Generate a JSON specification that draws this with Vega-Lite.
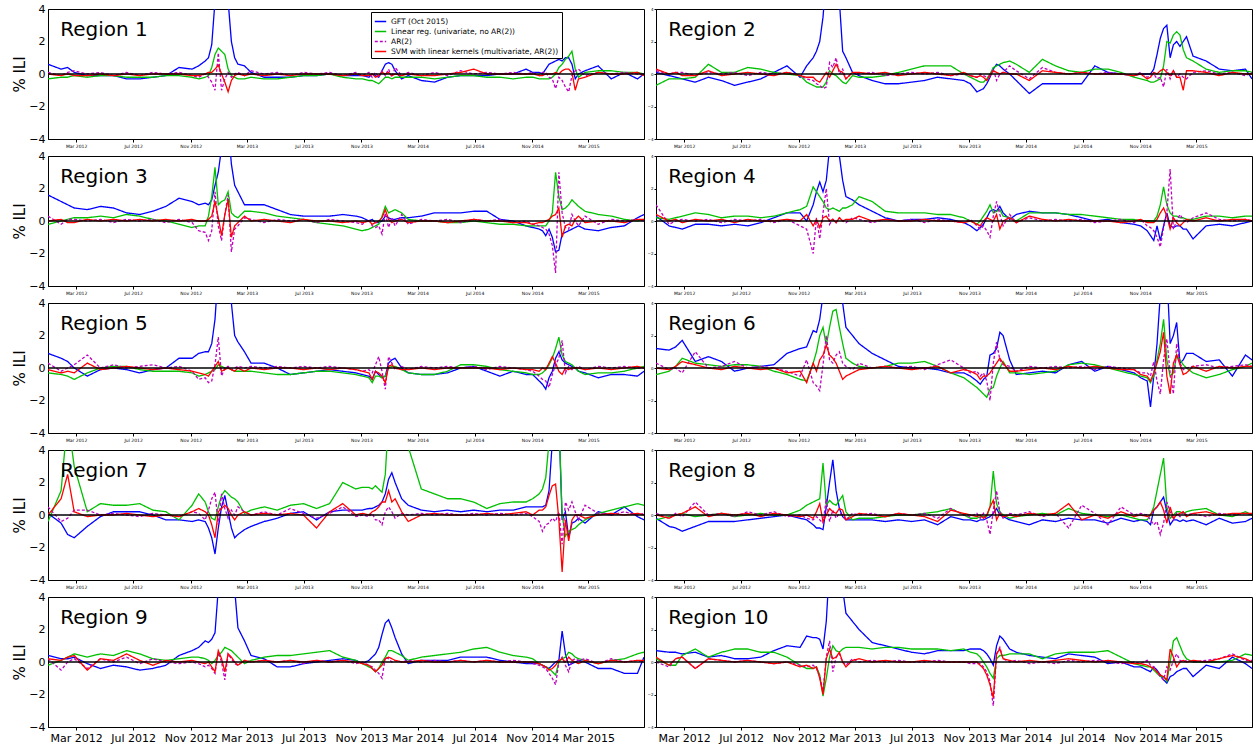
{
"$schema":"https://vega.github.io/schema/vega-lite/v6.json",
"padding":{"left":12,"top":2,"right":2,"bottom":2},
"bounds":"flush",
"columns":2,
"spacing":{"row":17,"column":12},
"config":{"font":"DejaVu Sans","view":{"stroke":"black","strokeWidth":1},"axis":{"domainColor":"black","tickColor":"black","labelColor":"black","titleColor":"black","grid":false,"labelOverlap":false,"labelFlush":false},"axisY":{"labelOverlap":false}},
"datasets":{
"r1":[
{"d":"2012-01-01","G":0.6,"L":-0.3,"A":0.1,"S":0},
{"d":"2012-01-29","G":0.3,"L":-0.2,"A":-0.1,"S":-0.1},
{"d":"2012-02-12","G":0.4,"L":-0.2,"A":0.1,"S":0},
{"d":"2012-02-26","G":0.1,"L":-0.1,"A":0.2,"S":-0.1},
{"d":"2012-03-25","G":-0.1,"L":-0.2,"A":0,"S":-0.1},
{"d":"2012-04-22","G":-0.1,"L":-0.1,"A":0.1,"S":0},
{"d":"2012-05-20","G":-0.1,"L":-0.1,"A":-0.1,"S":-0.1},
{"d":"2012-06-17","G":-0.3,"L":-0.2,"A":0.1,"S":0},
{"d":"2012-07-15","G":-0.3,"L":-0.2,"A":-0.1,"S":-0.1},
{"d":"2012-08-12","G":-0.2,"L":-0.2,"A":0.1,"S":0},
{"d":"2012-09-09","G":-0.1,"L":-0.1,"A":0,"S":0},
{"d":"2012-10-07","G":0.4,"L":-0.1,"A":0.1,"S":0},
{"d":"2012-11-04","G":0.3,"L":-0.2,"A":-0.1,"S":-0.1},
{"d":"2012-11-18","G":0.5,"L":-0.3,"A":-0.2,"S":-0.1},
{"d":"2012-12-02","G":0.8,"L":-0.2,"A":0,"S":0},
{"d":"2012-12-09","G":1.0,"L":-0.1,"A":-0.2,"S":0.1},
{"d":"2012-12-16","G":1.8,"L":0.4,"A":-0.5,"S":0.1},
{"d":"2012-12-23","G":4.5,"L":1.2,"A":-1.0,"S":0.3},
{"d":"2012-12-30","G":6,"L":1.6,"A":1.3,"S":0.55},
{"d":"2013-01-06","G":6,"L":1.4,"A":-1.0,"S":0},
{"d":"2013-01-13","G":6,"L":1.2,"A":-0.3,"S":-0.5},
{"d":"2013-01-20","G":4.5,"L":0.3,"A":0.1,"S":-1.1},
{"d":"2013-01-27","G":2.0,"L":-0.1,"A":-0.2,"S":-0.4},
{"d":"2013-02-03","G":1.0,"L":-0.2,"A":0,"S":-0.1},
{"d":"2013-02-10","G":0.6,"L":-0.3,"A":0.1,"S":0},
{"d":"2013-02-24","G":0.5,"L":-0.3,"A":-0.1,"S":-0.1},
{"d":"2013-03-10","G":0.1,"L":-0.2,"A":0.2,"S":0},
{"d":"2013-04-07","G":-0.2,"L":-0.3,"A":0,"S":-0.1},
{"d":"2013-05-05","G":-0.2,"L":-0.3,"A":0.1,"S":0},
{"d":"2013-06-02","G":-0.2,"L":-0.2,"A":-0.1,"S":-0.1},
{"d":"2013-06-30","G":-0.1,"L":-0.1,"A":0.1,"S":0},
{"d":"2013-07-28","G":-0.1,"L":-0.1,"A":0,"S":0},
{"d":"2013-08-25","G":0,"L":0,"A":0.1,"S":0},
{"d":"2013-09-22","G":-0.1,"L":-0.2,"A":-0.1,"S":-0.1},
{"d":"2013-10-20","G":-0.1,"L":-0.3,"A":0.1,"S":0},
{"d":"2013-11-03","G":-0.1,"L":-0.3,"A":-0.1,"S":-0.1},
{"d":"2013-11-17","G":-0.2,"L":-0.4,"A":0.1,"S":-0.1},
{"d":"2013-11-24","G":0,"L":-0.4,"A":-0.2,"S":0},
{"d":"2013-12-01","G":-0.1,"L":-0.5,"A":0.1,"S":-0.2},
{"d":"2013-12-08","G":-0.2,"L":-0.6,"A":-0.2,"S":-0.1},
{"d":"2013-12-15","G":0.2,"L":-0.4,"A":0.2,"S":0.1},
{"d":"2013-12-22","G":0.6,"L":-0.2,"A":-0.1,"S":0},
{"d":"2013-12-29","G":0.7,"L":-0.2,"A":0.3,"S":0.1},
{"d":"2014-01-05","G":0.6,"L":-0.3,"A":-0.2,"S":-0.1},
{"d":"2014-01-12","G":0.2,"L":-0.2,"A":0.4,"S":0},
{"d":"2014-01-26","G":-0.3,"L":-0.2,"A":-0.1,"S":-0.1},
{"d":"2014-02-09","G":-0.1,"L":-0.2,"A":0.1,"S":0},
{"d":"2014-03-09","G":-0.4,"L":-0.2,"A":-0.1,"S":-0.1},
{"d":"2014-04-06","G":-0.5,"L":-0.3,"A":0.1,"S":-0.1},
{"d":"2014-05-04","G":-0.2,"L":-0.2,"A":-0.1,"S":0},
{"d":"2014-06-01","G":-0.1,"L":-0.1,"A":0.2,"S":0.1},
{"d":"2014-06-29","G":-0.1,"L":-0.1,"A":0,"S":0.3},
{"d":"2014-07-27","G":-0.1,"L":-0.2,"A":0.1,"S":0},
{"d":"2014-08-24","G":0,"L":-0.2,"A":0,"S":0},
{"d":"2014-09-21","G":0,"L":-0.3,"A":0.1,"S":0},
{"d":"2014-10-19","G":0.3,"L":-0.2,"A":0,"S":0},
{"d":"2014-11-02","G":0.1,"L":-0.2,"A":0.1,"S":0},
{"d":"2014-11-16","G":0.1,"L":-0.3,"A":-0.1,"S":-0.1},
{"d":"2014-11-23","G":0,"L":-0.3,"A":0.1,"S":-0.1},
{"d":"2014-11-30","G":0.3,"L":-0.3,"A":0.1,"S":0},
{"d":"2014-12-07","G":0.6,"L":-0.3,"A":-0.2,"S":0},
{"d":"2014-12-14","G":0.7,"L":-0.2,"A":-0.3,"S":0},
{"d":"2014-12-21","G":0.8,"L":0,"A":-0.9,"S":0.1},
{"d":"2014-12-28","G":0.9,"L":0.4,"A":-0.2,"S":0},
{"d":"2015-01-04","G":0.8,"L":0.6,"A":-0.4,"S":0.2},
{"d":"2015-01-11","G":1.0,"L":0.9,"A":-0.8,"S":0.3},
{"d":"2015-01-18","G":1.0,"L":1.1,"A":-1.1,"S":0.3},
{"d":"2015-01-25","G":0.6,"L":1.4,"A":-0.1,"S":0.1},
{"d":"2015-02-01","G":-0.3,"L":0.3,"A":0.2,"S":-1.0},
{"d":"2015-02-08","G":0,"L":-0.2,"A":0.3,"S":-0.3},
{"d":"2015-02-22","G":0.2,"L":0.1,"A":-0.1,"S":-0.2},
{"d":"2015-03-22","G":0.5,"L":0.2,"A":0.1,"S":0.1},
{"d":"2015-04-19","G":-0.3,"L":0.2,"A":0,"S":0},
{"d":"2015-05-17","G":0.1,"L":0.1,"A":0.1,"S":0},
{"d":"2015-06-14","G":-0.3,"L":0.1,"A":0,"S":0.1},
{"d":"2015-06-28","G":0,"L":0,"A":0,"S":-0.1}
],
"r2":[
{"d":"2012-01-01","G":0.1,"L":-0.7,"A":0.2,"S":0.3},
{"d":"2012-01-29","G":-0.1,"L":-0.3,"A":0,"S":0},
{"d":"2012-02-12","G":-0.2,"L":-0.3,"A":0.1,"S":0.1},
{"d":"2012-02-26","G":-0.3,"L":-0.3,"A":0.1,"S":-0.1},
{"d":"2012-03-25","G":-0.5,"L":-0.2,"A":-0.1,"S":-0.1},
{"d":"2012-04-22","G":-0.2,"L":0.6,"A":0.1,"S":0.2},
{"d":"2012-05-20","G":-0.4,"L":0.1,"A":0,"S":-0.1},
{"d":"2012-06-17","G":-0.7,"L":0.1,"A":0.1,"S":0},
{"d":"2012-07-15","G":-0.5,"L":0.4,"A":-0.1,"S":0.1},
{"d":"2012-08-12","G":-0.3,"L":0.3,"A":0.1,"S":0},
{"d":"2012-09-09","G":0.1,"L":0.1,"A":0,"S":-0.1},
{"d":"2012-10-07","G":0.5,"L":0,"A":0.1,"S":0.1},
{"d":"2012-11-04","G":-0.2,"L":-0.1,"A":-0.1,"S":-0.1},
{"d":"2012-11-18","G":0.5,"L":-0.5,"A":-0.3,"S":-0.2},
{"d":"2012-12-02","G":1.0,"L":-0.7,"A":-0.4,"S":-0.2},
{"d":"2012-12-09","G":1.4,"L":-0.8,"A":-0.6,"S":-0.4},
{"d":"2012-12-16","G":2.0,"L":-0.8,"A":-0.7,"S":-0.5},
{"d":"2012-12-23","G":3.5,"L":-0.8,"A":-0.9,"S":-0.2},
{"d":"2012-12-30","G":6,"L":-0.5,"A":-0.8,"S":0.1},
{"d":"2013-01-06","G":6,"L":0.2,"A":0.7,"S":-0.2},
{"d":"2013-01-13","G":6,"L":0,"A":0.4,"S":0.2},
{"d":"2013-01-20","G":6,"L":-0.1,"A":1.0,"S":0.6},
{"d":"2013-01-27","G":4.5,"L":-0.3,"A":0,"S":0.2},
{"d":"2013-02-03","G":1.4,"L":-0.5,"A":0.3,"S":0.1},
{"d":"2013-02-10","G":1.0,"L":-0.6,"A":-0.3,"S":-0.3},
{"d":"2013-02-24","G":0.1,"L":-0.1,"A":0.1,"S":0.1},
{"d":"2013-03-10","G":-0.1,"L":-0.2,"A":0,"S":0.1},
{"d":"2013-04-07","G":-0.4,"L":-0.2,"A":0.1,"S":0},
{"d":"2013-05-05","G":-0.6,"L":-0.1,"A":-0.1,"S":0.1},
{"d":"2013-06-02","G":-0.6,"L":0.1,"A":0,"S":-0.1},
{"d":"2013-06-30","G":-0.5,"L":0.3,"A":0.1,"S":0},
{"d":"2013-07-28","G":-0.4,"L":0.5,"A":0,"S":0.1},
{"d":"2013-08-25","G":-0.2,"L":0.5,"A":0.1,"S":0},
{"d":"2013-09-22","G":-0.3,"L":0.5,"A":-0.1,"S":-0.1},
{"d":"2013-10-20","G":-0.4,"L":0,"A":0,"S":0.1},
{"d":"2013-11-03","G":-0.6,"L":-0.2,"A":-0.1,"S":-0.1},
{"d":"2013-11-17","G":-1.1,"L":-0.4,"A":-0.2,"S":-0.2},
{"d":"2013-11-24","G":-1.0,"L":-0.5,"A":0,"S":-0.1},
{"d":"2013-12-01","G":-0.9,"L":-0.5,"A":-0.1,"S":-0.2},
{"d":"2013-12-08","G":-0.6,"L":-0.3,"A":-0.2,"S":-0.4},
{"d":"2013-12-15","G":-0.2,"L":0,"A":-0.1,"S":-0.1},
{"d":"2013-12-22","G":0.3,"L":0.4,"A":0.3,"S":0.2},
{"d":"2013-12-29","G":0.6,"L":0.5,"A":-0.4,"S":0.1},
{"d":"2014-01-05","G":0.5,"L":0.6,"A":0,"S":0},
{"d":"2014-01-12","G":0.3,"L":0.7,"A":0.1,"S":0.1},
{"d":"2014-01-26","G":0,"L":0.8,"A":0.5,"S":0},
{"d":"2014-02-09","G":-0.4,"L":0.6,"A":0.2,"S":0},
{"d":"2014-03-09","G":-1.2,"L":0.1,"A":-0.3,"S":-0.4},
{"d":"2014-04-06","G":-0.6,"L":0.9,"A":0.4,"S":0.2},
{"d":"2014-05-04","G":-0.6,"L":0.5,"A":0.1,"S":0.1},
{"d":"2014-06-01","G":-0.6,"L":0.2,"A":0,"S":0},
{"d":"2014-06-29","G":-0.6,"L":0.1,"A":0.1,"S":0.1},
{"d":"2014-07-27","G":0.5,"L":0.3,"A":0,"S":0},
{"d":"2014-08-24","G":0.1,"L":0.3,"A":0.1,"S":0},
{"d":"2014-09-21","G":0,"L":0.1,"A":0,"S":0},
{"d":"2014-10-19","G":-0.1,"L":-0.2,"A":-0.1,"S":-0.1},
{"d":"2014-11-02","G":0,"L":-0.3,"A":0.1,"S":0},
{"d":"2014-11-16","G":0,"L":-0.4,"A":-0.2,"S":-0.3},
{"d":"2014-11-23","G":0,"L":-0.5,"A":-0.1,"S":-0.2},
{"d":"2014-11-30","G":0.3,"L":-0.5,"A":0,"S":0.1},
{"d":"2014-12-07","G":1.2,"L":-0.4,"A":-0.3,"S":0},
{"d":"2014-12-14","G":2.2,"L":-0.3,"A":-0.2,"S":0.2},
{"d":"2014-12-21","G":2.8,"L":0.5,"A":-0.8,"S":0.3},
{"d":"2014-12-28","G":3.0,"L":2.0,"A":0.3,"S":0.1},
{"d":"2015-01-04","G":1.0,"L":1.9,"A":-0.3,"S":-0.1},
{"d":"2015-01-11","G":1.8,"L":2.4,"A":0.2,"S":0.2},
{"d":"2015-01-18","G":2.0,"L":2.6,"A":-0.2,"S":-0.2},
{"d":"2015-01-25","G":1.7,"L":2.4,"A":0,"S":-0.2},
{"d":"2015-02-01","G":2.0,"L":1.5,"A":-0.2,"S":-1.0},
{"d":"2015-02-08","G":2.3,"L":1.0,"A":-0.3,"S":0.2},
{"d":"2015-02-22","G":1.1,"L":0.8,"A":0.1,"S":0.2},
{"d":"2015-03-22","G":0.8,"L":0.3,"A":0.2,"S":0.1},
{"d":"2015-04-19","G":0.3,"L":0.1,"A":0,"S":-0.1},
{"d":"2015-05-17","G":0.2,"L":0.2,"A":0.1,"S":0.1},
{"d":"2015-06-14","G":0.3,"L":0.2,"A":-0.1,"S":0},
{"d":"2015-06-28","G":-0.3,"L":0.1,"A":0.1,"S":0}
],
"r3":[
{"d":"2012-01-01","G":1.6,"L":-0.2,"A":0.3,"S":0},
{"d":"2012-01-29","G":1.2,"L":0,"A":-0.2,"S":0.1},
{"d":"2012-02-12","G":1.0,"L":0.1,"A":0.1,"S":-0.1},
{"d":"2012-02-26","G":0.8,"L":0.2,"A":0.1,"S":-0.1},
{"d":"2012-03-25","G":0.7,"L":0.2,"A":0,"S":0.1},
{"d":"2012-04-22","G":0.9,"L":0.3,"A":0.1,"S":0},
{"d":"2012-05-20","G":0.8,"L":0.2,"A":-0.1,"S":0.1},
{"d":"2012-06-17","G":0.5,"L":0.4,"A":0.1,"S":0},
{"d":"2012-07-15","G":0.4,"L":0.3,"A":0,"S":0.1},
{"d":"2012-08-12","G":0.6,"L":0.1,"A":0.1,"S":0},
{"d":"2012-09-09","G":0.9,"L":0,"A":-0.1,"S":0.1},
{"d":"2012-10-07","G":1.4,"L":-0.2,"A":0.1,"S":0},
{"d":"2012-11-04","G":1.2,"L":-0.4,"A":-0.1,"S":0.1},
{"d":"2012-11-18","G":1.0,"L":-0.3,"A":-0.6,"S":0},
{"d":"2012-12-02","G":1.1,"L":-0.3,"A":-0.7,"S":0},
{"d":"2012-12-09","G":1.0,"L":0.3,"A":-1.2,"S":0.1},
{"d":"2012-12-16","G":1.3,"L":1.5,"A":-0.6,"S":0.3},
{"d":"2012-12-23","G":2.2,"L":3.3,"A":1.8,"S":1.2},
{"d":"2012-12-30","G":3.0,"L":1.0,"A":-0.3,"S":0.2},
{"d":"2013-01-06","G":4.5,"L":1.2,"A":-1.2,"S":-0.9},
{"d":"2013-01-13","G":6,"L":1.3,"A":0.4,"S":0.4},
{"d":"2013-01-20","G":6,"L":1.8,"A":1.6,"S":1.3},
{"d":"2013-01-27","G":3.5,"L":0.5,"A":-1.9,"S":-1.0},
{"d":"2013-02-03","G":2.2,"L":0.3,"A":-0.5,"S":-0.3},
{"d":"2013-02-10","G":1.8,"L":0.2,"A":-0.3,"S":-0.1},
{"d":"2013-02-24","G":1.0,"L":0.6,"A":0.2,"S":0.3},
{"d":"2013-03-10","G":1.0,"L":0.6,"A":0.1,"S":0},
{"d":"2013-04-07","G":1.0,"L":0.5,"A":-0.1,"S":0.1},
{"d":"2013-05-05","G":0.7,"L":0.3,"A":0.1,"S":0},
{"d":"2013-06-02","G":0.4,"L":0.2,"A":0,"S":-0.1},
{"d":"2013-06-30","G":0.3,"L":0.1,"A":0.1,"S":0.1},
{"d":"2013-07-28","G":0.3,"L":-0.1,"A":-0.1,"S":0},
{"d":"2013-08-25","G":0.3,"L":-0.2,"A":0.1,"S":0},
{"d":"2013-09-22","G":0.4,"L":-0.3,"A":0,"S":-0.1},
{"d":"2013-10-20","G":0.3,"L":-0.5,"A":-0.1,"S":0},
{"d":"2013-11-03","G":0.2,"L":-0.6,"A":-0.2,"S":-0.1},
{"d":"2013-11-17","G":0,"L":-0.5,"A":0.1,"S":0},
{"d":"2013-11-24","G":0.1,"L":-0.4,"A":-0.3,"S":-0.2},
{"d":"2013-12-01","G":-0.1,"L":-0.3,"A":-0.4,"S":-0.1},
{"d":"2013-12-08","G":-0.1,"L":-0.2,"A":-0.3,"S":0},
{"d":"2013-12-15","G":0,"L":0.3,"A":-0.8,"S":0.2},
{"d":"2013-12-22","G":0.3,"L":0.9,"A":0.5,"S":0.7},
{"d":"2013-12-29","G":0.2,"L":0.5,"A":-0.4,"S":0.1},
{"d":"2014-01-05","G":0.1,"L":0.6,"A":0.2,"S":-0.1},
{"d":"2014-01-12","G":0.1,"L":0.7,"A":-0.3,"S":0},
{"d":"2014-01-26","G":0.2,"L":0.5,"A":0.4,"S":0.1},
{"d":"2014-02-09","G":0.2,"L":0.1,"A":-0.2,"S":-0.1},
{"d":"2014-03-09","G":0.3,"L":0,"A":0.1,"S":0},
{"d":"2014-04-06","G":0.5,"L":0,"A":0,"S":0},
{"d":"2014-05-04","G":0.5,"L":-0.1,"A":0.1,"S":-0.1},
{"d":"2014-06-01","G":0.5,"L":-0.1,"A":-0.1,"S":0},
{"d":"2014-06-29","G":0.6,"L":0,"A":0.1,"S":0.1},
{"d":"2014-07-27","G":0.6,"L":-0.1,"A":0,"S":0},
{"d":"2014-08-24","G":0.1,"L":-0.2,"A":0.1,"S":0},
{"d":"2014-09-21","G":0,"L":-0.2,"A":-0.1,"S":-0.1},
{"d":"2014-10-19","G":-0.3,"L":-0.3,"A":0,"S":-0.1},
{"d":"2014-11-02","G":-0.4,"L":-0.3,"A":-0.2,"S":-0.2},
{"d":"2014-11-16","G":-0.5,"L":-0.3,"A":-0.3,"S":-0.1},
{"d":"2014-11-23","G":-0.6,"L":-0.3,"A":-0.4,"S":-0.1},
{"d":"2014-11-30","G":-0.9,"L":-0.3,"A":-0.5,"S":0},
{"d":"2014-12-07","G":-0.5,"L":0,"A":-0.8,"S":0.1},
{"d":"2014-12-14","G":-1.0,"L":0.5,"A":-1.5,"S":0.3},
{"d":"2014-12-21","G":-1.9,"L":3.0,"A":-3.2,"S":0.4},
{"d":"2014-12-28","G":-1.8,"L":1.5,"A":3.0,"S":0.8},
{"d":"2015-01-04","G":-0.8,"L":0.7,"A":0.5,"S":-1.0},
{"d":"2015-01-11","G":-0.7,"L":0.8,"A":-0.4,"S":-0.3},
{"d":"2015-01-18","G":-0.6,"L":1.0,"A":-0.5,"S":-0.2},
{"d":"2015-01-25","G":-0.5,"L":1.3,"A":0.4,"S":-0.3},
{"d":"2015-02-01","G":-0.4,"L":1.1,"A":0,"S":0.1},
{"d":"2015-02-08","G":-0.3,"L":0.9,"A":-0.3,"S":0.3},
{"d":"2015-02-22","G":-0.5,"L":0.6,"A":0.3,"S":-0.1},
{"d":"2015-03-22","G":-0.6,"L":0.4,"A":-0.2,"S":0},
{"d":"2015-04-19","G":-0.4,"L":0.3,"A":0.1,"S":0},
{"d":"2015-05-17","G":-0.3,"L":0.1,"A":0,"S":-0.1},
{"d":"2015-06-14","G":0.2,"L":0,"A":0.1,"S":0.1},
{"d":"2015-06-28","G":0.4,"L":0.1,"A":0,"S":0.1}
],
"r4":[
{"d":"2012-01-01","G":0.3,"L":0.2,"A":1.0,"S":0.4},
{"d":"2012-01-29","G":-0.3,"L":0.1,"A":-0.2,"S":0},
{"d":"2012-02-12","G":-0.4,"L":0.2,"A":0,"S":0.1},
{"d":"2012-02-26","G":-0.5,"L":0.3,"A":0.1,"S":-0.1},
{"d":"2012-03-25","G":-0.2,"L":0.5,"A":0,"S":0.1},
{"d":"2012-04-22","G":-0.2,"L":0.4,"A":0.1,"S":0},
{"d":"2012-05-20","G":-0.3,"L":0.2,"A":-0.1,"S":0.1},
{"d":"2012-06-17","G":-0.2,"L":0.3,"A":0.1,"S":-0.1},
{"d":"2012-07-15","G":-0.3,"L":0.3,"A":0,"S":0.1},
{"d":"2012-08-12","G":-0.1,"L":0.2,"A":0.1,"S":0},
{"d":"2012-09-09","G":0.2,"L":0.3,"A":-0.1,"S":0},
{"d":"2012-10-07","G":0.5,"L":0.5,"A":0.1,"S":0.1},
{"d":"2012-11-04","G":0.5,"L":0.7,"A":-0.3,"S":0},
{"d":"2012-11-18","G":0,"L":0.9,"A":-0.5,"S":0.4},
{"d":"2012-12-02","G":1.0,"L":2.1,"A":-2.0,"S":-0.3},
{"d":"2012-12-09","G":1.8,"L":1.8,"A":0.2,"S":0.1},
{"d":"2012-12-16","G":2.4,"L":1.5,"A":-1.1,"S":-0.4},
{"d":"2012-12-23","G":1.8,"L":1.2,"A":0.5,"S":0.2},
{"d":"2012-12-30","G":2.5,"L":0.8,"A":2.0,"S":0.3},
{"d":"2013-01-06","G":4.5,"L":0.7,"A":-0.2,"S":0},
{"d":"2013-01-13","G":6,"L":0.8,"A":0.1,"S":0.1},
{"d":"2013-01-20","G":6,"L":0.7,"A":-0.1,"S":-0.1},
{"d":"2013-01-27","G":4.0,"L":0.6,"A":0.2,"S":0.2},
{"d":"2013-02-03","G":2.5,"L":0.8,"A":0,"S":0},
{"d":"2013-02-10","G":1.5,"L":0.8,"A":-0.1,"S":0.1},
{"d":"2013-02-24","G":1.3,"L":1.0,"A":0.2,"S":0.1},
{"d":"2013-03-10","G":1.0,"L":1.5,"A":0.1,"S":0.3},
{"d":"2013-04-07","G":0.6,"L":1.2,"A":-0.1,"S":0},
{"d":"2013-05-05","G":0.2,"L":0.6,"A":0.1,"S":0.1},
{"d":"2013-06-02","G":0,"L":0.5,"A":0,"S":0},
{"d":"2013-06-30","G":0.1,"L":0.5,"A":0.1,"S":0},
{"d":"2013-07-28","G":0.1,"L":0.5,"A":-0.1,"S":0.1},
{"d":"2013-08-25","G":0.2,"L":0.4,"A":0.1,"S":0},
{"d":"2013-09-22","G":0.1,"L":0.4,"A":0,"S":0},
{"d":"2013-10-20","G":-0.1,"L":0.2,"A":-0.1,"S":-0.1},
{"d":"2013-11-03","G":-0.3,"L":0,"A":0.1,"S":0},
{"d":"2013-11-17","G":-0.6,"L":-0.2,"A":-0.3,"S":-0.2},
{"d":"2013-11-24","G":-0.4,"L":0,"A":-0.5,"S":-0.3},
{"d":"2013-12-01","G":-0.2,"L":0.3,"A":-0.3,"S":0},
{"d":"2013-12-08","G":0.2,"L":0.6,"A":-0.6,"S":0.2},
{"d":"2013-12-15","G":0.6,"L":1.0,"A":-1.0,"S":0.1},
{"d":"2013-12-22","G":0.7,"L":0.5,"A":0.3,"S":0},
{"d":"2013-12-29","G":0.6,"L":0.6,"A":1.2,"S":0.4},
{"d":"2014-01-05","G":0.9,"L":0.7,"A":0.4,"S":-0.5},
{"d":"2014-01-12","G":0.5,"L":0.3,"A":-0.3,"S":0},
{"d":"2014-01-26","G":0.1,"L":0.2,"A":0.4,"S":0.2},
{"d":"2014-02-09","G":0.4,"L":0,"A":-0.1,"S":-0.1},
{"d":"2014-03-09","G":0.6,"L":0.5,"A":0.2,"S":0.3},
{"d":"2014-04-06","G":0.5,"L":0.5,"A":0,"S":0.1},
{"d":"2014-05-04","G":0.5,"L":0.5,"A":0.1,"S":0},
{"d":"2014-06-01","G":0.4,"L":0.4,"A":0,"S":0.1},
{"d":"2014-06-29","G":0.2,"L":0.4,"A":0.1,"S":0},
{"d":"2014-07-27","G":0,"L":0.3,"A":-0.1,"S":0},
{"d":"2014-08-24","G":0.1,"L":0.2,"A":0,"S":0},
{"d":"2014-09-21","G":-0.1,"L":0.1,"A":0.1,"S":-0.1},
{"d":"2014-10-19","G":-0.2,"L":0.1,"A":-0.1,"S":0},
{"d":"2014-11-02","G":-0.3,"L":0,"A":0.1,"S":0.1},
{"d":"2014-11-16","G":-0.6,"L":0,"A":-0.3,"S":-0.1},
{"d":"2014-11-23","G":-0.9,"L":0,"A":-0.4,"S":-0.1},
{"d":"2014-11-30","G":-1.2,"L":0,"A":-0.6,"S":-0.1},
{"d":"2014-12-07","G":-0.3,"L":0.3,"A":-1.0,"S":0.1},
{"d":"2014-12-14","G":-1.2,"L":1.0,"A":-1.6,"S":0.5},
{"d":"2014-12-21","G":-0.3,"L":2.1,"A":-0.4,"S":0.8},
{"d":"2014-12-28","G":0.5,"L":1.0,"A":0.5,"S":0.3},
{"d":"2015-01-04","G":-0.3,"L":0.5,"A":3.2,"S":-0.5},
{"d":"2015-01-11","G":-0.4,"L":0.3,"A":-0.5,"S":0.2},
{"d":"2015-01-18","G":-0.3,"L":0.3,"A":0,"S":-0.1},
{"d":"2015-01-25","G":-0.3,"L":0.2,"A":0.4,"S":-0.3},
{"d":"2015-02-01","G":-0.5,"L":0.2,"A":0.1,"S":-0.1},
{"d":"2015-02-08","G":-0.5,"L":0.1,"A":-0.1,"S":0.1},
{"d":"2015-02-22","G":-1.1,"L":0.1,"A":0.2,"S":0},
{"d":"2015-03-22","G":-0.3,"L":0.3,"A":0.5,"S":0.2},
{"d":"2015-04-19","G":-0.2,"L":0.3,"A":0.1,"S":0},
{"d":"2015-05-17","G":-0.3,"L":0.2,"A":0,"S":0.1},
{"d":"2015-06-14","G":-0.1,"L":0.3,"A":0.1,"S":0.1},
{"d":"2015-06-28","G":0,"L":0.3,"A":0,"S":0}
],
"r5":[
{"d":"2012-01-01","G":0.9,"L":-0.3,"A":0.3,"S":-0.1},
{"d":"2012-01-29","G":0.6,"L":-0.4,"A":-0.2,"S":-0.3},
{"d":"2012-02-12","G":0.4,"L":-0.5,"A":0,"S":-0.2},
{"d":"2012-02-26","G":0,"L":-0.7,"A":0.2,"S":-0.3},
{"d":"2012-03-25","G":-0.5,"L":-0.3,"A":0.8,"S":0.3},
{"d":"2012-04-22","G":-0.1,"L":0,"A":0,"S":-0.1},
{"d":"2012-05-20","G":0,"L":0.1,"A":0.2,"S":0},
{"d":"2012-06-17","G":-0.1,"L":0.1,"A":0,"S":0.1},
{"d":"2012-07-15","G":-0.3,"L":-0.1,"A":0.1,"S":0},
{"d":"2012-08-12","G":-0.1,"L":-0.2,"A":0.2,"S":-0.1},
{"d":"2012-09-09","G":0,"L":-0.2,"A":0,"S":0},
{"d":"2012-10-07","G":0.6,"L":-0.2,"A":0.1,"S":-0.1},
{"d":"2012-11-04","G":0.6,"L":-0.3,"A":-0.2,"S":-0.2},
{"d":"2012-11-18","G":0.9,"L":-0.5,"A":-0.7,"S":-0.3},
{"d":"2012-12-02","G":1.0,"L":-0.4,"A":-0.6,"S":-0.4},
{"d":"2012-12-09","G":1.0,"L":-0.3,"A":-0.9,"S":-0.5},
{"d":"2012-12-16","G":1.5,"L":-0.2,"A":-0.8,"S":-0.2},
{"d":"2012-12-23","G":3.0,"L":-0.1,"A":0.2,"S":0.1},
{"d":"2012-12-30","G":6,"L":0.2,"A":1.9,"S":0.4},
{"d":"2013-01-06","G":6,"L":0.1,"A":-0.5,"S":-0.2},
{"d":"2013-01-13","G":6,"L":0,"A":0,"S":-0.1},
{"d":"2013-01-20","G":6,"L":0,"A":0.1,"S":0},
{"d":"2013-01-27","G":4.0,"L":-0.1,"A":-0.1,"S":-0.1},
{"d":"2013-02-03","G":2.0,"L":-0.2,"A":0,"S":-0.2},
{"d":"2013-02-10","G":1.6,"L":-0.2,"A":0.1,"S":0},
{"d":"2013-02-24","G":1.0,"L":-0.2,"A":0,"S":-0.2},
{"d":"2013-03-10","G":0.3,"L":-0.2,"A":0.1,"S":0},
{"d":"2013-04-07","G":0.3,"L":-0.3,"A":0,"S":-0.1},
{"d":"2013-05-05","G":0,"L":-0.4,"A":0.1,"S":0},
{"d":"2013-06-02","G":-0.4,"L":-0.4,"A":0,"S":0},
{"d":"2013-06-30","G":-0.3,"L":-0.3,"A":0.1,"S":-0.1},
{"d":"2013-07-28","G":-0.2,"L":-0.2,"A":0,"S":0},
{"d":"2013-08-25","G":-0.1,"L":-0.2,"A":0.1,"S":-0.1},
{"d":"2013-09-22","G":-0.2,"L":-0.3,"A":0,"S":0},
{"d":"2013-10-20","G":-0.3,"L":-0.4,"A":-0.1,"S":-0.1},
{"d":"2013-11-03","G":-0.4,"L":-0.5,"A":-0.2,"S":-0.2},
{"d":"2013-11-17","G":-0.5,"L":-0.6,"A":-0.1,"S":-0.3},
{"d":"2013-11-24","G":-0.7,"L":-0.9,"A":-0.3,"S":-0.7},
{"d":"2013-12-01","G":-0.2,"L":-0.5,"A":0.2,"S":-0.2},
{"d":"2013-12-08","G":-0.4,"L":-0.5,"A":0.7,"S":-0.3},
{"d":"2013-12-15","G":-0.6,"L":-0.6,"A":-0.2,"S":-0.5},
{"d":"2013-12-22","G":-0.5,"L":-0.5,"A":-1.3,"S":-0.9},
{"d":"2013-12-29","G":0.3,"L":0,"A":0.7,"S":0.1},
{"d":"2014-01-05","G":0.5,"L":0.1,"A":0.3,"S":0.2},
{"d":"2014-01-12","G":0.6,"L":0.1,"A":-0.1,"S":0},
{"d":"2014-01-26","G":0,"L":-0.1,"A":0.1,"S":-0.1},
{"d":"2014-02-09","G":-0.3,"L":-0.3,"A":-0.1,"S":-0.1},
{"d":"2014-03-09","G":-0.4,"L":-0.4,"A":0.1,"S":0},
{"d":"2014-04-06","G":-0.4,"L":-0.4,"A":0,"S":-0.1},
{"d":"2014-05-04","G":-0.3,"L":-0.2,"A":0.1,"S":0},
{"d":"2014-06-01","G":0,"L":0.2,"A":0,"S":0},
{"d":"2014-06-29","G":0.1,"L":0.2,"A":0.1,"S":0},
{"d":"2014-07-27","G":-0.2,"L":0.1,"A":-0.1,"S":0},
{"d":"2014-08-24","G":-0.5,"L":-0.1,"A":0.1,"S":-0.1},
{"d":"2014-09-21","G":-0.2,"L":-0.2,"A":0,"S":0},
{"d":"2014-10-19","G":-0.4,"L":-0.3,"A":-0.1,"S":-0.1},
{"d":"2014-11-02","G":-0.4,"L":-0.4,"A":-0.2,"S":-0.1},
{"d":"2014-11-16","G":-0.8,"L":-0.4,"A":-0.5,"S":-0.2},
{"d":"2014-11-23","G":-1.0,"L":-0.3,"A":-0.7,"S":0},
{"d":"2014-11-30","G":-1.3,"L":-0.1,"A":-0.8,"S":-0.1},
{"d":"2014-12-07","G":-0.6,"L":0.2,"A":-1.2,"S":0.3},
{"d":"2014-12-14","G":-0.2,"L":0.6,"A":-0.4,"S":0.7},
{"d":"2014-12-21","G":0.6,"L":1.2,"A":0.2,"S":0.3},
{"d":"2014-12-28","G":1.0,"L":1.9,"A":0.6,"S":-0.2},
{"d":"2015-01-04","G":0.5,"L":0.8,"A":1.7,"S":-0.4},
{"d":"2015-01-11","G":0.3,"L":0.4,"A":-0.3,"S":0},
{"d":"2015-01-18","G":0.2,"L":0.3,"A":0.1,"S":-0.1},
{"d":"2015-01-25","G":0.1,"L":0.2,"A":-0.1,"S":0},
{"d":"2015-02-01","G":0,"L":0,"A":0,"S":0},
{"d":"2015-02-08","G":-0.2,"L":-0.2,"A":0.1,"S":0},
{"d":"2015-02-22","G":-0.3,"L":-0.4,"A":-0.1,"S":-0.1},
{"d":"2015-03-22","G":-0.6,"L":-0.3,"A":0.1,"S":0},
{"d":"2015-04-19","G":-0.4,"L":-0.3,"A":0,"S":-0.1},
{"d":"2015-05-17","G":-0.4,"L":-0.2,"A":0.1,"S":0},
{"d":"2015-06-14","G":-0.5,"L":0,"A":0,"S":0.1},
{"d":"2015-06-28","G":-0.2,"L":0.1,"A":0,"S":0}
],
"r6":[
{"d":"2012-01-01","G":1.2,"L":-0.4,"A":0.3,"S":0},
{"d":"2012-01-29","G":1.1,"L":-0.2,"A":-0.1,"S":-0.1},
{"d":"2012-02-12","G":1.3,"L":0.1,"A":0,"S":0.1},
{"d":"2012-02-26","G":1.7,"L":0.6,"A":-0.3,"S":0.4},
{"d":"2012-03-25","G":0.4,"L":0.3,"A":1.0,"S":0.2},
{"d":"2012-04-22","G":0.7,"L":0.2,"A":0,"S":0},
{"d":"2012-05-20","G":0.4,"L":0.1,"A":0.1,"S":-0.1},
{"d":"2012-06-17","G":-0.2,"L":0.2,"A":0.4,"S":0.1},
{"d":"2012-07-15","G":0,"L":0.2,"A":0,"S":0},
{"d":"2012-08-12","G":0.1,"L":0.1,"A":0.1,"S":-0.1},
{"d":"2012-09-09","G":0.2,"L":-0.2,"A":0,"S":0},
{"d":"2012-10-07","G":0.9,"L":-0.4,"A":-0.2,"S":-0.3},
{"d":"2012-11-04","G":1.2,"L":-0.7,"A":-0.5,"S":-0.2},
{"d":"2012-11-18","G":1.3,"L":-0.8,"A":0.5,"S":-0.9},
{"d":"2012-12-02","G":2.3,"L":0.3,"A":-0.9,"S":0.3},
{"d":"2012-12-09","G":2.2,"L":1.0,"A":-1.1,"S":-0.2},
{"d":"2012-12-16","G":3.0,"L":2.0,"A":-1.4,"S":0.5},
{"d":"2012-12-23","G":4.5,"L":2.5,"A":0.2,"S":0.8},
{"d":"2012-12-30","G":6,"L":1.4,"A":2.0,"S":1.4},
{"d":"2013-01-06","G":6,"L":2.5,"A":0.5,"S":0.8},
{"d":"2013-01-13","G":6,"L":3.5,"A":0.3,"S":0.6},
{"d":"2013-01-20","G":6,"L":3.6,"A":0.8,"S":0.3},
{"d":"2013-01-27","G":6,"L":2.5,"A":1.0,"S":-0.2},
{"d":"2013-02-03","G":4.0,"L":1.5,"A":0.3,"S":-0.7},
{"d":"2013-02-10","G":2.5,"L":0.6,"A":0.1,"S":-0.5},
{"d":"2013-02-24","G":2.0,"L":0.3,"A":-0.1,"S":-0.3},
{"d":"2013-03-10","G":1.5,"L":0.1,"A":0.3,"S":-0.1},
{"d":"2013-04-07","G":0.9,"L":0,"A":0,"S":0},
{"d":"2013-05-05","G":0.5,"L":0.1,"A":0.1,"S":0.1},
{"d":"2013-06-02","G":0.1,"L":0.3,"A":0,"S":0},
{"d":"2013-06-30","G":0,"L":0.3,"A":0.1,"S":-0.1},
{"d":"2013-07-28","G":0,"L":0.4,"A":-0.1,"S":0},
{"d":"2013-08-25","G":-0.1,"L":0.1,"A":0.2,"S":0.1},
{"d":"2013-09-22","G":-0.3,"L":-0.3,"A":0.5,"S":-0.3},
{"d":"2013-10-20","G":-0.3,"L":-0.6,"A":0,"S":-0.1},
{"d":"2013-11-03","G":-0.5,"L":-0.9,"A":-0.3,"S":-0.2},
{"d":"2013-11-17","G":-0.8,"L":-1.2,"A":-0.2,"S":-0.4},
{"d":"2013-11-24","G":-1.0,"L":-1.4,"A":-0.5,"S":-0.7},
{"d":"2013-12-01","G":-0.7,"L":-1.6,"A":-0.3,"S":-0.5},
{"d":"2013-12-08","G":-0.5,"L":-1.8,"A":-0.8,"S":-0.5},
{"d":"2013-12-15","G":0.8,"L":-1.3,"A":-2.0,"S":-0.3},
{"d":"2013-12-22","G":0.9,"L":-1.2,"A":0.3,"S":0},
{"d":"2013-12-29","G":1.2,"L":-0.5,"A":1.6,"S":0.3},
{"d":"2014-01-05","G":2.2,"L":0,"A":0.5,"S":0.6},
{"d":"2014-01-12","G":2.0,"L":0.4,"A":0.2,"S":0.3},
{"d":"2014-01-26","G":0.5,"L":-0.3,"A":0.1,"S":-0.2},
{"d":"2014-02-09","G":-0.4,"L":-0.3,"A":-0.2,"S":-0.2},
{"d":"2014-03-09","G":-0.3,"L":-0.4,"A":0.1,"S":-0.1},
{"d":"2014-04-06","G":-0.2,"L":-0.3,"A":0,"S":0},
{"d":"2014-05-04","G":-0.3,"L":-0.2,"A":0.1,"S":-0.1},
{"d":"2014-06-01","G":0.2,"L":0.2,"A":0,"S":0.1},
{"d":"2014-06-29","G":0.4,"L":0.3,"A":0.1,"S":0},
{"d":"2014-07-27","G":-0.2,"L":0.2,"A":-0.1,"S":0.1},
{"d":"2014-08-24","G":0.1,"L":0,"A":0.1,"S":0},
{"d":"2014-09-21","G":-0.1,"L":-0.2,"A":0,"S":-0.1},
{"d":"2014-10-19","G":-0.3,"L":-0.4,"A":-0.1,"S":-0.1},
{"d":"2014-11-02","G":-0.6,"L":-0.5,"A":-0.3,"S":-0.4},
{"d":"2014-11-16","G":-0.8,"L":-0.6,"A":-0.3,"S":-0.5},
{"d":"2014-11-23","G":-2.4,"L":-0.9,"A":-0.5,"S":-0.8},
{"d":"2014-11-30","G":-0.5,"L":-0.5,"A":0.4,"S":-0.3},
{"d":"2014-12-07","G":1.5,"L":0.5,"A":-0.8,"S":0.3},
{"d":"2014-12-14","G":4.5,"L":1.5,"A":-1.6,"S":1.0},
{"d":"2014-12-21","G":6,"L":3.0,"A":0.5,"S":2.2},
{"d":"2014-12-28","G":6,"L":0.5,"A":1.8,"S":-0.5},
{"d":"2015-01-04","G":1.5,"L":-0.5,"A":-0.3,"S":-1.6},
{"d":"2015-01-11","G":2.0,"L":-0.3,"A":-1.6,"S":0.3},
{"d":"2015-01-18","G":2.8,"L":0.8,"A":1.5,"S":0.8},
{"d":"2015-01-25","G":0.3,"L":0.5,"A":0.3,"S":0.2},
{"d":"2015-02-01","G":0.5,"L":0.2,"A":-0.1,"S":-0.4},
{"d":"2015-02-08","G":0.9,"L":0,"A":0,"S":-0.3},
{"d":"2015-02-22","G":0.9,"L":-0.3,"A":0.1,"S":0.1},
{"d":"2015-03-22","G":0.4,"L":-0.6,"A":0.2,"S":-0.2},
{"d":"2015-04-19","G":0.5,"L":-0.4,"A":0,"S":0.1},
{"d":"2015-05-17","G":-0.5,"L":-0.1,"A":0.1,"S":0},
{"d":"2015-06-14","G":0.8,"L":0.1,"A":0.2,"S":0.1},
{"d":"2015-06-28","G":0.5,"L":0.3,"A":0.1,"S":0.1}
],
"r7":[
{"d":"2012-01-01","G":0.1,"L":-0.4,"A":0.5,"S":0},
{"d":"2012-01-29","G":-0.5,"L":1.5,"A":-0.4,"S":1.0},
{"d":"2012-02-12","G":-1.2,"L":6,"A":-0.2,"S":2.5},
{"d":"2012-02-26","G":-1.4,"L":3.0,"A":0.3,"S":0.2},
{"d":"2012-03-25","G":-0.7,"L":0.2,"A":0.3,"S":-0.1},
{"d":"2012-04-22","G":-0.1,"L":0.7,"A":0,"S":0},
{"d":"2012-05-20","G":0.2,"L":0.6,"A":0.1,"S":0},
{"d":"2012-06-17","G":0.2,"L":0.6,"A":0,"S":0.1},
{"d":"2012-07-15","G":0.2,"L":0.7,"A":-0.1,"S":0},
{"d":"2012-08-12","G":0,"L":0.3,"A":0.1,"S":-0.1},
{"d":"2012-09-09","G":-0.3,"L":0.2,"A":0,"S":0},
{"d":"2012-10-07","G":-0.3,"L":-0.3,"A":-0.1,"S":-0.1},
{"d":"2012-11-04","G":-0.4,"L":0.6,"A":0.2,"S":0.2},
{"d":"2012-11-18","G":-0.3,"L":1.3,"A":0.1,"S":0.4},
{"d":"2012-12-02","G":-0.4,"L":0.8,"A":-0.3,"S":0.2},
{"d":"2012-12-09","G":-0.8,"L":0.2,"A":0.3,"S":0},
{"d":"2012-12-16","G":-1.4,"L":-0.2,"A":1.0,"S":-0.6},
{"d":"2012-12-23","G":-2.4,"L":-0.3,"A":1.4,"S":-1.4},
{"d":"2012-12-30","G":-0.8,"L":0.5,"A":-0.6,"S":0.2},
{"d":"2013-01-06","G":0.5,"L":1.2,"A":1.3,"S":0.4},
{"d":"2013-01-13","G":1.2,"L":1.5,"A":0.4,"S":0.6},
{"d":"2013-01-20","G":0.2,"L":1.3,"A":-0.2,"S":0.4},
{"d":"2013-01-27","G":-0.8,"L":1.1,"A":0.3,"S":0},
{"d":"2013-02-03","G":-1.4,"L":1.0,"A":0,"S":-0.3},
{"d":"2013-02-10","G":-1.2,"L":0.8,"A":0.5,"S":0},
{"d":"2013-02-24","G":-0.9,"L":0.1,"A":0.2,"S":0.2},
{"d":"2013-03-10","G":-0.7,"L":0.3,"A":0,"S":0},
{"d":"2013-04-07","G":-0.4,"L":0.5,"A":0.2,"S":0.1},
{"d":"2013-05-05","G":-0.2,"L":0.3,"A":0,"S":0},
{"d":"2013-06-02","G":0.1,"L":0.6,"A":0.4,"S":0.1},
{"d":"2013-06-30","G":0.2,"L":0.7,"A":0.1,"S":0},
{"d":"2013-07-28","G":-0.3,"L":0.4,"A":-0.2,"S":-0.8},
{"d":"2013-08-25","G":0.2,"L":0.7,"A":0.1,"S":0.2},
{"d":"2013-09-22","G":0.3,"L":2.0,"A":0.5,"S":0.7},
{"d":"2013-10-20","G":0.3,"L":1.6,"A":-0.1,"S":0},
{"d":"2013-11-03","G":0.3,"L":1.7,"A":0,"S":0.1},
{"d":"2013-11-17","G":0.4,"L":1.7,"A":-0.1,"S":0},
{"d":"2013-11-24","G":0.4,"L":1.6,"A":0.1,"S":0.2},
{"d":"2013-12-01","G":0.5,"L":1.8,"A":-0.3,"S":0.3},
{"d":"2013-12-08","G":0.6,"L":1.6,"A":-0.3,"S":0.5},
{"d":"2013-12-15","G":0.8,"L":1.4,"A":-0.6,"S":0.8},
{"d":"2013-12-22","G":1.3,"L":2.5,"A":0.2,"S":0.8},
{"d":"2013-12-29","G":2.2,"L":6,"A":0.5,"S":1.5},
{"d":"2014-01-05","G":2.6,"L":6,"A":0.2,"S":0.8},
{"d":"2014-01-12","G":2.0,"L":5,"A":-0.2,"S":1.0},
{"d":"2014-01-26","G":1.0,"L":4.5,"A":0.1,"S":0.2},
{"d":"2014-02-09","G":0.6,"L":4.2,"A":0,"S":-0.4},
{"d":"2014-03-09","G":0.3,"L":1.6,"A":0.1,"S":0},
{"d":"2014-04-06","G":0.2,"L":1.3,"A":0,"S":0.1},
{"d":"2014-05-04","G":0.3,"L":1.0,"A":0.1,"S":0},
{"d":"2014-06-01","G":0.2,"L":1.0,"A":0,"S":0},
{"d":"2014-06-29","G":0.3,"L":0.8,"A":0.1,"S":0},
{"d":"2014-07-27","G":0.2,"L":0.4,"A":0,"S":0.1},
{"d":"2014-08-24","G":0.3,"L":0.7,"A":0.1,"S":0},
{"d":"2014-09-21","G":0.3,"L":0.8,"A":0,"S":0.1},
{"d":"2014-10-19","G":0.5,"L":0.8,"A":0.1,"S":0.2},
{"d":"2014-11-02","G":0.5,"L":1.0,"A":-0.1,"S":0},
{"d":"2014-11-16","G":0.5,"L":1.3,"A":-0.4,"S":0.3},
{"d":"2014-11-23","G":0.5,"L":1.6,"A":-1.0,"S":0.3},
{"d":"2014-11-30","G":0.6,"L":2.3,"A":-0.6,"S":0.5},
{"d":"2014-12-07","G":1.5,"L":4.5,"A":-0.5,"S":1.2},
{"d":"2014-12-14","G":4.5,"L":6,"A":-0.2,"S":1.8},
{"d":"2014-12-21","G":6,"L":6,"A":-0.4,"S":1.9},
{"d":"2014-12-28","G":6,"L":6,"A":0.2,"S":-0.3},
{"d":"2015-01-04","G":-0.3,"L":0,"A":-1.8,"S":-3.5},
{"d":"2015-01-11","G":0.2,"L":-1.3,"A":0.8,"S":-0.3},
{"d":"2015-01-18","G":-1.4,"L":-1.0,"A":0.3,"S":-1.6},
{"d":"2015-01-25","G":-0.5,"L":-0.9,"A":0.8,"S":-0.3},
{"d":"2015-02-01","G":-0.4,"L":-0.8,"A":0.2,"S":0},
{"d":"2015-02-08","G":-0.2,"L":-0.6,"A":-0.3,"S":0},
{"d":"2015-02-22","G":-0.5,"L":-0.3,"A":0.6,"S":-0.2},
{"d":"2015-03-22","G":0.2,"L":0.1,"A":0.1,"S":0},
{"d":"2015-04-19","G":0,"L":0.3,"A":0,"S":0.1},
{"d":"2015-05-17","G":0.5,"L":0.5,"A":0.2,"S":0},
{"d":"2015-06-14","G":-0.1,"L":0.7,"A":0,"S":0.1},
{"d":"2015-06-28","G":-0.3,"L":0.6,"A":0.1,"S":0}
],
"r8":[
{"d":"2012-01-01","G":-0.2,"L":-0.3,"A":0.1,"S":0},
{"d":"2012-01-29","G":-0.7,"L":-0.1,"A":-0.2,"S":-0.2},
{"d":"2012-02-12","G":-0.8,"L":0,"A":0.1,"S":0},
{"d":"2012-02-26","G":-1.0,"L":0.1,"A":-0.1,"S":0.1},
{"d":"2012-03-25","G":-0.7,"L":-0.1,"A":0.8,"S":0.5},
{"d":"2012-04-22","G":-0.4,"L":0,"A":0,"S":-0.1},
{"d":"2012-05-20","G":-0.4,"L":0.1,"A":0.1,"S":0.1},
{"d":"2012-06-17","G":-0.4,"L":-0.1,"A":-0.1,"S":0},
{"d":"2012-07-15","G":-0.3,"L":0,"A":0.2,"S":0.1},
{"d":"2012-08-12","G":-0.2,"L":0.1,"A":0,"S":-0.1},
{"d":"2012-09-09","G":-0.1,"L":0,"A":0.2,"S":0.1},
{"d":"2012-10-07","G":0,"L":0,"A":-0.1,"S":0},
{"d":"2012-11-04","G":-0.2,"L":0.3,"A":0,"S":-0.1},
{"d":"2012-11-18","G":-0.3,"L":0.6,"A":-0.2,"S":0},
{"d":"2012-12-02","G":-0.6,"L":0.8,"A":-0.3,"S":-0.2},
{"d":"2012-12-09","G":-0.8,"L":0.9,"A":-0.1,"S":0.2},
{"d":"2012-12-16","G":-0.8,"L":1.0,"A":-0.3,"S":0.7},
{"d":"2012-12-23","G":-0.9,"L":3.2,"A":-0.5,"S":-0.4},
{"d":"2012-12-30","G":0.5,"L":0.6,"A":1.0,"S":0},
{"d":"2013-01-06","G":2.0,"L":0.9,"A":-0.4,"S":0.4},
{"d":"2013-01-13","G":3.4,"L":0.7,"A":0.3,"S":0.2},
{"d":"2013-01-20","G":1.5,"L":0.6,"A":-0.2,"S":0.1},
{"d":"2013-01-27","G":0.4,"L":0.9,"A":0.1,"S":0.4},
{"d":"2013-02-03","G":-0.1,"L":1.2,"A":0,"S":0.3},
{"d":"2013-02-10","G":-0.3,"L":0.2,"A":-0.3,"S":-0.3},
{"d":"2013-02-24","G":-0.3,"L":-0.3,"A":0.1,"S":-0.1},
{"d":"2013-03-10","G":-0.3,"L":-0.2,"A":0,"S":0.1},
{"d":"2013-04-07","G":-0.3,"L":-0.2,"A":0.1,"S":0},
{"d":"2013-05-05","G":-0.4,"L":-0.1,"A":-0.1,"S":-0.1},
{"d":"2013-06-02","G":-0.3,"L":0,"A":0.1,"S":0.1},
{"d":"2013-06-30","G":-0.4,"L":0,"A":0,"S":0},
{"d":"2013-07-28","G":-0.3,"L":0.1,"A":0.1,"S":-0.1},
{"d":"2013-08-25","G":-0.6,"L":0.2,"A":-0.2,"S":-0.4},
{"d":"2013-09-22","G":-0.1,"L":0.4,"A":0.4,"S":0.3},
{"d":"2013-10-20","G":-0.3,"L":0,"A":0,"S":0.1},
{"d":"2013-11-03","G":-0.3,"L":-0.2,"A":-0.1,"S":0},
{"d":"2013-11-17","G":-0.4,"L":-0.2,"A":0.1,"S":-0.1},
{"d":"2013-11-24","G":-0.3,"L":-0.1,"A":-0.2,"S":0},
{"d":"2013-12-01","G":-0.3,"L":-0.1,"A":0.1,"S":-0.2},
{"d":"2013-12-08","G":-0.2,"L":-0.1,"A":-0.3,"S":0},
{"d":"2013-12-15","G":-0.1,"L":0.5,"A":-1.2,"S":0.5},
{"d":"2013-12-22","G":0.1,"L":2.7,"A":0.3,"S":0.9},
{"d":"2013-12-29","G":0.4,"L":0.7,"A":1.5,"S":-0.3},
{"d":"2014-01-05","G":0,"L":0.2,"A":0.2,"S":0.1},
{"d":"2014-01-12","G":-0.1,"L":0,"A":-0.2,"S":-0.1},
{"d":"2014-01-26","G":-0.3,"L":-0.2,"A":0.1,"S":0},
{"d":"2014-02-09","G":-0.4,"L":-0.1,"A":0,"S":-0.1},
{"d":"2014-03-09","G":-0.6,"L":0,"A":0.2,"S":0.1},
{"d":"2014-04-06","G":-0.3,"L":0.1,"A":-0.1,"S":0},
{"d":"2014-05-04","G":-0.4,"L":0,"A":0.1,"S":0.1},
{"d":"2014-06-01","G":-0.2,"L":0.4,"A":-0.8,"S":0.7},
{"d":"2014-06-29","G":-0.3,"L":0.1,"A":0.6,"S":-0.3},
{"d":"2014-07-27","G":-0.3,"L":0,"A":0.1,"S":0},
{"d":"2014-08-24","G":-0.5,"L":-0.1,"A":-0.6,"S":-0.2},
{"d":"2014-09-21","G":-0.2,"L":0,"A":0.5,"S":0.2},
{"d":"2014-10-19","G":-0.4,"L":-0.2,"A":0,"S":-0.1},
{"d":"2014-11-02","G":-0.3,"L":-0.3,"A":0.1,"S":0},
{"d":"2014-11-16","G":-0.4,"L":-0.3,"A":0,"S":-0.1},
{"d":"2014-11-23","G":-0.6,"L":0,"A":-0.3,"S":0},
{"d":"2014-11-30","G":0.3,"L":0.5,"A":-0.6,"S":0.3},
{"d":"2014-12-07","G":0.5,"L":1.5,"A":-0.4,"S":0.5},
{"d":"2014-12-14","G":0.8,"L":2.5,"A":-1.2,"S":0.8},
{"d":"2014-12-21","G":1.1,"L":3.5,"A":-0.5,"S":0.3},
{"d":"2014-12-28","G":0.2,"L":0.5,"A":0.8,"S":-0.5},
{"d":"2015-01-04","G":-0.6,"L":-0.2,"A":0.2,"S":0.5},
{"d":"2015-01-11","G":-0.3,"L":0,"A":-0.3,"S":-0.2},
{"d":"2015-01-18","G":-0.3,"L":0.2,"A":0.1,"S":0},
{"d":"2015-01-25","G":-0.4,"L":0.2,"A":-0.1,"S":0.1},
{"d":"2015-02-01","G":-0.3,"L":0.1,"A":0.2,"S":0.2},
{"d":"2015-02-08","G":-0.4,"L":0.2,"A":0,"S":-0.1},
{"d":"2015-02-22","G":-0.3,"L":0.3,"A":0.1,"S":0.1},
{"d":"2015-03-22","G":-0.6,"L":0.4,"A":-0.1,"S":0.2},
{"d":"2015-04-19","G":-0.2,"L":0,"A":0.1,"S":0},
{"d":"2015-05-17","G":-0.5,"L":-0.1,"A":0,"S":0.1},
{"d":"2015-06-14","G":-0.4,"L":0.2,"A":0.1,"S":0.1},
{"d":"2015-06-28","G":-0.2,"L":0,"A":0,"S":0.1}
],
"r9":[
{"d":"2012-01-01","G":0.4,"L":-0.2,"A":0.2,"S":0.2},
{"d":"2012-01-29","G":0.2,"L":0.1,"A":-0.5,"S":0.1},
{"d":"2012-02-12","G":0.2,"L":0.3,"A":0,"S":0.3},
{"d":"2012-02-26","G":0.3,"L":0.5,"A":0.2,"S":0.4},
{"d":"2012-03-25","G":-0.1,"L":0.3,"A":-0.4,"S":-0.5},
{"d":"2012-04-22","G":-0.4,"L":0.5,"A":0.2,"S":0.2},
{"d":"2012-05-20","G":-0.2,"L":0.4,"A":0,"S":0.1},
{"d":"2012-06-17","G":-0.3,"L":0.7,"A":0.3,"S":0.5},
{"d":"2012-07-15","G":-0.5,"L":0.5,"A":-0.1,"S":0.1},
{"d":"2012-08-12","G":-0.4,"L":0.2,"A":0.2,"S":-0.2},
{"d":"2012-09-09","G":-0.2,"L":0.1,"A":0,"S":0.1},
{"d":"2012-10-07","G":0.4,"L":0.2,"A":-0.1,"S":0},
{"d":"2012-11-04","G":0.7,"L":0.3,"A":0,"S":0.1},
{"d":"2012-11-18","G":0.9,"L":0.3,"A":-0.1,"S":0},
{"d":"2012-12-02","G":1.3,"L":0.2,"A":-0.3,"S":-0.1},
{"d":"2012-12-09","G":1.2,"L":0.1,"A":-0.2,"S":0},
{"d":"2012-12-16","G":1.4,"L":-0.1,"A":-0.4,"S":-0.3},
{"d":"2012-12-23","G":1.8,"L":0.1,"A":-0.7,"S":-0.6},
{"d":"2012-12-30","G":4.5,"L":0.4,"A":0.6,"S":0.7},
{"d":"2013-01-06","G":6,"L":0.6,"A":0,"S":0.2},
{"d":"2013-01-13","G":6,"L":0.9,"A":-1.1,"S":-0.6},
{"d":"2013-01-20","G":6,"L":0.8,"A":0.5,"S":0.5},
{"d":"2013-01-27","G":6,"L":0.7,"A":0.2,"S":0.3},
{"d":"2013-02-03","G":4.5,"L":0.5,"A":-0.1,"S":0},
{"d":"2013-02-10","G":2.1,"L":0.3,"A":-0.2,"S":-0.2},
{"d":"2013-02-24","G":1.3,"L":-0.1,"A":0.1,"S":0.1},
{"d":"2013-03-10","G":0.4,"L":0.1,"A":0,"S":0},
{"d":"2013-04-07","G":0.2,"L":0.3,"A":0.1,"S":0.1},
{"d":"2013-05-05","G":-0.3,"L":0.4,"A":0,"S":0},
{"d":"2013-06-02","G":-0.3,"L":0.4,"A":0.1,"S":0.1},
{"d":"2013-06-30","G":-0.1,"L":0.5,"A":-0.1,"S":0},
{"d":"2013-07-28","G":0,"L":0.6,"A":0.1,"S":0.1},
{"d":"2013-08-25","G":0.1,"L":0.7,"A":0,"S":0},
{"d":"2013-09-22","G":0.2,"L":0.3,"A":0.1,"S":0.1},
{"d":"2013-10-20","G":0.1,"L":0.1,"A":-0.1,"S":0},
{"d":"2013-11-03","G":-0.1,"L":-0.1,"A":0,"S":-0.1},
{"d":"2013-11-17","G":0.1,"L":-0.3,"A":-0.2,"S":-0.2},
{"d":"2013-11-24","G":0.3,"L":-0.4,"A":-0.3,"S":-0.4},
{"d":"2013-12-01","G":0.5,"L":-0.6,"A":-0.5,"S":-0.6},
{"d":"2013-12-08","G":0.9,"L":-0.4,"A":-0.7,"S":-0.4},
{"d":"2013-12-15","G":1.7,"L":0,"A":-1.0,"S":-0.2},
{"d":"2013-12-22","G":2.4,"L":0.3,"A":0.3,"S":0.2},
{"d":"2013-12-29","G":2.6,"L":0.7,"A":0.2,"S":0.3},
{"d":"2014-01-05","G":2.1,"L":0.7,"A":0,"S":0.2},
{"d":"2014-01-12","G":1.5,"L":0.6,"A":0.1,"S":0.1},
{"d":"2014-01-26","G":0.5,"L":0.4,"A":0,"S":0},
{"d":"2014-02-09","G":-0.1,"L":0.1,"A":0.1,"S":0},
{"d":"2014-03-09","G":0.1,"L":0.3,"A":0,"S":0.1},
{"d":"2014-04-06","G":0.1,"L":0.4,"A":0.1,"S":0},
{"d":"2014-05-04","G":0.1,"L":0.5,"A":0,"S":0},
{"d":"2014-06-01","G":0.3,"L":0.6,"A":0.1,"S":0.1},
{"d":"2014-06-29","G":0.3,"L":0.8,"A":0,"S":0},
{"d":"2014-07-27","G":0.3,"L":0.9,"A":0.1,"S":0.1},
{"d":"2014-08-24","G":0.1,"L":0.6,"A":0,"S":0},
{"d":"2014-09-21","G":0,"L":0.4,"A":0.1,"S":0},
{"d":"2014-10-19","G":-0.1,"L":0.3,"A":0,"S":0},
{"d":"2014-11-02","G":-0.1,"L":0.2,"A":-0.1,"S":0},
{"d":"2014-11-16","G":-0.1,"L":-0.1,"A":-0.2,"S":-0.1},
{"d":"2014-11-23","G":-0.2,"L":-0.2,"A":-0.3,"S":-0.2},
{"d":"2014-11-30","G":-0.3,"L":-0.3,"A":-0.4,"S":-0.3},
{"d":"2014-12-07","G":-0.4,"L":-0.4,"A":-0.7,"S":-0.5},
{"d":"2014-12-14","G":-0.2,"L":-0.6,"A":-1.0,"S":-0.4},
{"d":"2014-12-21","G":0,"L":-0.8,"A":-1.4,"S":-0.2},
{"d":"2014-12-28","G":0.1,"L":0,"A":0,"S":0.1},
{"d":"2015-01-04","G":1.9,"L":0.2,"A":0.3,"S":0.2},
{"d":"2015-01-11","G":0.5,"L":0.3,"A":-0.2,"S":0},
{"d":"2015-01-18","G":-0.2,"L":0.6,"A":-0.6,"S":0.3},
{"d":"2015-01-25","G":-0.1,"L":0.5,"A":0.1,"S":0.1},
{"d":"2015-02-01","G":0,"L":0.3,"A":0.2,"S":0},
{"d":"2015-02-08","G":0.1,"L":0.2,"A":0.1,"S":-0.1},
{"d":"2015-02-22","G":0,"L":0.1,"A":0.2,"S":0.1},
{"d":"2015-03-22","G":-0.4,"L":-0.1,"A":-0.1,"S":-0.1},
{"d":"2015-04-19","G":-0.4,"L":0.1,"A":0.2,"S":0.1},
{"d":"2015-05-17","G":-0.7,"L":0.2,"A":0,"S":0},
{"d":"2015-06-14","G":-0.7,"L":0.5,"A":0.1,"S":0.1},
{"d":"2015-06-28","G":0.3,"L":0.6,"A":0,"S":0.1}
],
"r10":[
{"d":"2012-01-01","G":0.7,"L":0.2,"A":0,"S":0.3},
{"d":"2012-01-29","G":0.6,"L":-0.2,"A":-0.3,"S":-0.2},
{"d":"2012-02-12","G":0.6,"L":-0.2,"A":0.2,"S":0.2},
{"d":"2012-02-26","G":0.5,"L":0.4,"A":0.3,"S":0.3},
{"d":"2012-03-25","G":0.6,"L":0.8,"A":-0.4,"S":-0.4},
{"d":"2012-04-22","G":0.3,"L":0.3,"A":0.2,"S":0.2},
{"d":"2012-05-20","G":0.4,"L":0.6,"A":0.1,"S":0.1},
{"d":"2012-06-17","G":0.2,"L":0.8,"A":0,"S":0},
{"d":"2012-07-15","G":0.2,"L":0.8,"A":0.1,"S":0.1},
{"d":"2012-08-12","G":0.3,"L":0.6,"A":0,"S":0},
{"d":"2012-09-09","G":0.7,"L":0.6,"A":-0.1,"S":-0.1},
{"d":"2012-10-07","G":1.0,"L":0.3,"A":0,"S":0},
{"d":"2012-11-04","G":0.9,"L":-0.2,"A":-0.2,"S":-0.3},
{"d":"2012-11-18","G":1.6,"L":-0.4,"A":-0.3,"S":-0.2},
{"d":"2012-12-02","G":1.5,"L":-0.4,"A":-0.2,"S":-0.4},
{"d":"2012-12-09","G":1.5,"L":-0.3,"A":-0.4,"S":-0.3},
{"d":"2012-12-16","G":1.4,"L":-0.8,"A":-0.9,"S":-1.0},
{"d":"2012-12-23","G":0.8,"L":-2.1,"A":-1.8,"S":-2.0},
{"d":"2012-12-30","G":2.5,"L":-1.0,"A":0.3,"S":0.2},
{"d":"2013-01-06","G":6,"L":0.3,"A":1.3,"S":0.8},
{"d":"2013-01-13","G":6,"L":1.0,"A":-0.6,"S":0.2},
{"d":"2013-01-20","G":6,"L":0.7,"A":0.3,"S":0.3},
{"d":"2013-01-27","G":6,"L":0.6,"A":0.5,"S":0.6},
{"d":"2013-02-03","G":4.5,"L":0.8,"A":0,"S":0},
{"d":"2013-02-10","G":3.0,"L":0.9,"A":-0.2,"S":-0.3},
{"d":"2013-02-24","G":2.5,"L":0.9,"A":0.2,"S":0.1},
{"d":"2013-03-10","G":2.0,"L":0.9,"A":0,"S":0.2},
{"d":"2013-04-07","G":1.2,"L":0.8,"A":0.1,"S":0},
{"d":"2013-05-05","G":1.0,"L":0.9,"A":0,"S":0.1},
{"d":"2013-06-02","G":0.8,"L":0.9,"A":0.1,"S":0},
{"d":"2013-06-30","G":0.6,"L":0.8,"A":0,"S":0},
{"d":"2013-07-28","G":0.5,"L":0.8,"A":0,"S":0.1},
{"d":"2013-08-25","G":0.7,"L":0.8,"A":0.1,"S":0},
{"d":"2013-09-22","G":0.7,"L":0.7,"A":0,"S":0},
{"d":"2013-10-20","G":0.7,"L":0.8,"A":0,"S":0},
{"d":"2013-11-03","G":0.8,"L":0.6,"A":-0.1,"S":0},
{"d":"2013-11-17","G":0.8,"L":0.5,"A":-0.1,"S":0},
{"d":"2013-11-24","G":0.8,"L":0.3,"A":-0.1,"S":-0.2},
{"d":"2013-12-01","G":0.7,"L":0,"A":-0.3,"S":-0.4},
{"d":"2013-12-08","G":0.5,"L":-0.3,"A":-0.6,"S":-0.8},
{"d":"2013-12-15","G":0.2,"L":-0.7,"A":-1.2,"S":-1.4},
{"d":"2013-12-22","G":-0.2,"L":-1.0,"A":-2.7,"S":-2.2},
{"d":"2013-12-29","G":1.0,"L":0.2,"A":0.5,"S":0.5},
{"d":"2014-01-05","G":1.6,"L":0.4,"A":0.9,"S":0.8},
{"d":"2014-01-12","G":1.4,"L":0.4,"A":0.2,"S":0.2},
{"d":"2014-01-26","G":0.8,"L":0.5,"A":0,"S":0.1},
{"d":"2014-02-09","G":0.6,"L":0.5,"A":0.1,"S":0},
{"d":"2014-03-09","G":0.4,"L":0.5,"A":-0.1,"S":0.1},
{"d":"2014-04-06","G":0.3,"L":0.2,"A":0,"S":0},
{"d":"2014-05-04","G":0.2,"L":0.5,"A":-0.1,"S":0.1},
{"d":"2014-06-01","G":0.5,"L":0.6,"A":0.1,"S":0.2},
{"d":"2014-06-29","G":0.4,"L":0.6,"A":0,"S":0.1},
{"d":"2014-07-27","G":0.3,"L":0.6,"A":0.1,"S":0},
{"d":"2014-08-24","G":-0.1,"L":0.7,"A":0,"S":0.1},
{"d":"2014-09-21","G":0,"L":0.3,"A":-0.1,"S":0},
{"d":"2014-10-19","G":-0.3,"L":-0.1,"A":0,"S":-0.1},
{"d":"2014-11-02","G":-0.3,"L":-0.2,"A":-0.1,"S":-0.1},
{"d":"2014-11-16","G":-0.5,"L":-0.3,"A":0.1,"S":-0.2},
{"d":"2014-11-23","G":-0.6,"L":-0.3,"A":-0.2,"S":-0.3},
{"d":"2014-11-30","G":-0.3,"L":-0.5,"A":-0.3,"S":-0.4},
{"d":"2014-12-07","G":-0.5,"L":-0.7,"A":-0.6,"S":-0.6},
{"d":"2014-12-14","G":-0.8,"L":-0.9,"A":-0.9,"S":-0.8},
{"d":"2014-12-21","G":-1.1,"L":-0.9,"A":-1.1,"S":-0.9},
{"d":"2014-12-28","G":-1.3,"L":-1.2,"A":-0.3,"S":-1.1},
{"d":"2015-01-04","G":-0.9,"L":0,"A":-0.5,"S":0.8},
{"d":"2015-01-11","G":-0.8,"L":1.3,"A":0.1,"S":0.3},
{"d":"2015-01-18","G":-0.6,"L":1.5,"A":0.5,"S":-0.3},
{"d":"2015-01-25","G":-0.5,"L":1.0,"A":0.1,"S":0},
{"d":"2015-02-01","G":-0.4,"L":0.5,"A":0,"S":0.1},
{"d":"2015-02-08","G":-0.4,"L":0.2,"A":0.1,"S":0},
{"d":"2015-02-22","G":-0.9,"L":0,"A":0,"S":0.1},
{"d":"2015-03-22","G":-0.2,"L":0,"A":0.1,"S":0},
{"d":"2015-04-19","G":-0.4,"L":0,"A":0.2,"S":0.2},
{"d":"2015-05-17","G":0.3,"L":0.1,"A":0.5,"S":0.4},
{"d":"2015-06-14","G":-0.1,"L":0.5,"A":0.1,"S":0.2},
{"d":"2015-06-28","G":-0.4,"L":0.4,"A":0.1,"S":0}
]
},
"concat":[
{"width":596,"height":130,"layer":[
{"data":{"name":"r1"},"transform":[{"fold":["G","L","A","S"],"as":["k","v"]}],"mark":{"type":"line","strokeWidth":1.3,"clip":true},"encoding":{
"x":{"field":"d","type":"temporal","scale":{"domain":[{"year":2012,"month":1,"date":1},{"year":2015,"month":6,"date":28}]},"axis":{"values":[{"year":2012,"month":3,"date":1},{"year":2012,"month":7,"date":1},{"year":2012,"month":11,"date":1},{"year":2013,"month":3,"date":1},{"year":2013,"month":7,"date":1},{"year":2013,"month":11,"date":1},{"year":2014,"month":3,"date":1},{"year":2014,"month":7,"date":1},{"year":2014,"month":11,"date":1},{"year":2015,"month":3,"date":1}],"format":"%b %Y","labelFontSize":4.5,"tickSize":3,"labelPadding":1,"title":null}},
"y":{"field":"v","type":"quantitative","scale":{"domain":[-4,4]},"axis":{"values":[-4,-2,0,2,4],"title":"% ILI","titleFontSize":15,"titleFontWeight":"normal","labelFontSize":11,"ticks":false,"labelPadding":3,"titlePadding":1,"labelOverlap":false}},
"color":{"field":"k","type":"nominal","scale":{"domain":["G","L","A","S"],"range":["#0000ff","#00c000","#c000c0","#ff0000"]},"legend":{"title":null,"orient":"none","legendX":323,"legendY":3,"labelFontSize":7.5,"labelLimit":400,"symbolType":"stroke","symbolSize":130,"symbolStrokeWidth":1.3,"strokeColor":"black","fillColor":"white","padding":3,"rowPadding":0,"labelExpr":"datum.label == 'G' ? 'GFT (Oct 2015)' : datum.label == 'L' ? 'Linear reg. (univariate, no AR(2))' : datum.label == 'A' ? 'AR(2)' : 'SVM with linear kernels (multivariate, AR(2))'"}},
"strokeDash":{"field":"k","type":"nominal","scale":{"domain":["G","L","A","S"],"range":[[1,0],[1,0],[3,2],[1,0]]},"legend":{"title":null,"orient":"none","legendX":323,"legendY":3,"labelFontSize":7.5,"labelLimit":400,"symbolType":"stroke","symbolSize":130,"symbolStrokeWidth":1.3,"strokeColor":"black","fillColor":"white","padding":3,"rowPadding":0,"labelExpr":"datum.label == 'G' ? 'GFT (Oct 2015)' : datum.label == 'L' ? 'Linear reg. (univariate, no AR(2))' : datum.label == 'A' ? 'AR(2)' : 'SVM with linear kernels (multivariate, AR(2))'"}}}},
{"data":{"values":[{"z":0}]},"mark":{"type":"rule","color":"black","strokeWidth":1.5},"encoding":{"y":{"datum":0,"axis":{"values":[-4,-2,0,2,4],"title":"% ILI","titleFontSize":15,"titleFontWeight":"normal","labelFontSize":11,"ticks":false,"labelPadding":3,"titlePadding":1,"labelOverlap":false}}}},
{"data":{"values":[{"t":"Region 1"}]},"mark":{"type":"text","fontSize":20,"align":"left","baseline":"alphabetic","color":"black"},"encoding":{"x":{"datum":{"year":2012,"month":1,"date":27}},"y":{"datum":2.35,"axis":{"values":[-4,-2,0,2,4],"title":"% ILI","titleFontSize":15,"titleFontWeight":"normal","labelFontSize":11,"ticks":false,"labelPadding":3,"titlePadding":1,"labelOverlap":false}},"text":{"field":"t"}}}
]},
{"width":596,"height":130,"layer":[
{"data":{"name":"r2"},"transform":[{"fold":["G","L","A","S"],"as":["k","v"]}],"mark":{"type":"line","strokeWidth":1.3,"clip":true},"encoding":{
"x":{"field":"d","type":"temporal","scale":{"domain":[{"year":2012,"month":1,"date":1},{"year":2015,"month":6,"date":28}]},"axis":{"values":[{"year":2012,"month":3,"date":1},{"year":2012,"month":7,"date":1},{"year":2012,"month":11,"date":1},{"year":2013,"month":3,"date":1},{"year":2013,"month":7,"date":1},{"year":2013,"month":11,"date":1},{"year":2014,"month":3,"date":1},{"year":2014,"month":7,"date":1},{"year":2014,"month":11,"date":1},{"year":2015,"month":3,"date":1}],"format":"%b %Y","labelFontSize":4.5,"tickSize":3,"labelPadding":1,"title":null}},
"y":{"field":"v","type":"quantitative","scale":{"domain":[-4,4]},"axis":{"values":[-4,-2,0,2,4],"title":null,"labelFontSize":4,"tickSize":2,"labelPadding":1,"labelOverlap":false}},
"color":{"field":"k","type":"nominal","scale":{"domain":["G","L","A","S"],"range":["#0000ff","#00c000","#c000c0","#ff0000"]}},
"strokeDash":{"field":"k","type":"nominal","scale":{"domain":["G","L","A","S"],"range":[[1,0],[1,0],[3,2],[1,0]]}}}},
{"data":{"values":[{"z":0}]},"mark":{"type":"rule","color":"black","strokeWidth":1.5},"encoding":{"y":{"datum":0,"axis":{"values":[-4,-2,0,2,4],"title":null,"labelFontSize":4,"tickSize":2,"labelPadding":1,"labelOverlap":false}}}},
{"data":{"values":[{"t":"Region 2"}]},"mark":{"type":"text","fontSize":20,"align":"left","baseline":"alphabetic","color":"black"},"encoding":{"x":{"datum":{"year":2012,"month":1,"date":27}},"y":{"datum":2.35,"axis":{"values":[-4,-2,0,2,4],"title":null,"labelFontSize":4,"tickSize":2,"labelPadding":1,"labelOverlap":false}},"text":{"field":"t"}}}
]},
{"width":596,"height":130,"layer":[
{"data":{"name":"r3"},"transform":[{"fold":["G","L","A","S"],"as":["k","v"]}],"mark":{"type":"line","strokeWidth":1.3,"clip":true},"encoding":{
"x":{"field":"d","type":"temporal","scale":{"domain":[{"year":2012,"month":1,"date":1},{"year":2015,"month":6,"date":28}]},"axis":{"values":[{"year":2012,"month":3,"date":1},{"year":2012,"month":7,"date":1},{"year":2012,"month":11,"date":1},{"year":2013,"month":3,"date":1},{"year":2013,"month":7,"date":1},{"year":2013,"month":11,"date":1},{"year":2014,"month":3,"date":1},{"year":2014,"month":7,"date":1},{"year":2014,"month":11,"date":1},{"year":2015,"month":3,"date":1}],"format":"%b %Y","labelFontSize":4.5,"tickSize":3,"labelPadding":1,"title":null}},
"y":{"field":"v","type":"quantitative","scale":{"domain":[-4,4]},"axis":{"values":[-4,-2,0,2,4],"title":"% ILI","titleFontSize":15,"titleFontWeight":"normal","labelFontSize":11,"ticks":false,"labelPadding":3,"titlePadding":1,"labelOverlap":false}},
"color":{"field":"k","type":"nominal","scale":{"domain":["G","L","A","S"],"range":["#0000ff","#00c000","#c000c0","#ff0000"]}},
"strokeDash":{"field":"k","type":"nominal","scale":{"domain":["G","L","A","S"],"range":[[1,0],[1,0],[3,2],[1,0]]}}}},
{"data":{"values":[{"z":0}]},"mark":{"type":"rule","color":"black","strokeWidth":1.5},"encoding":{"y":{"datum":0,"axis":{"values":[-4,-2,0,2,4],"title":"% ILI","titleFontSize":15,"titleFontWeight":"normal","labelFontSize":11,"ticks":false,"labelPadding":3,"titlePadding":1,"labelOverlap":false}}}},
{"data":{"values":[{"t":"Region 3"}]},"mark":{"type":"text","fontSize":20,"align":"left","baseline":"alphabetic","color":"black"},"encoding":{"x":{"datum":{"year":2012,"month":1,"date":27}},"y":{"datum":2.35,"axis":{"values":[-4,-2,0,2,4],"title":"% ILI","titleFontSize":15,"titleFontWeight":"normal","labelFontSize":11,"ticks":false,"labelPadding":3,"titlePadding":1,"labelOverlap":false}},"text":{"field":"t"}}}
]},
{"width":596,"height":130,"layer":[
{"data":{"name":"r4"},"transform":[{"fold":["G","L","A","S"],"as":["k","v"]}],"mark":{"type":"line","strokeWidth":1.3,"clip":true},"encoding":{
"x":{"field":"d","type":"temporal","scale":{"domain":[{"year":2012,"month":1,"date":1},{"year":2015,"month":6,"date":28}]},"axis":{"values":[{"year":2012,"month":3,"date":1},{"year":2012,"month":7,"date":1},{"year":2012,"month":11,"date":1},{"year":2013,"month":3,"date":1},{"year":2013,"month":7,"date":1},{"year":2013,"month":11,"date":1},{"year":2014,"month":3,"date":1},{"year":2014,"month":7,"date":1},{"year":2014,"month":11,"date":1},{"year":2015,"month":3,"date":1}],"format":"%b %Y","labelFontSize":4.5,"tickSize":3,"labelPadding":1,"title":null}},
"y":{"field":"v","type":"quantitative","scale":{"domain":[-4,4]},"axis":{"values":[-4,-2,0,2,4],"title":null,"labelFontSize":4,"tickSize":2,"labelPadding":1,"labelOverlap":false}},
"color":{"field":"k","type":"nominal","scale":{"domain":["G","L","A","S"],"range":["#0000ff","#00c000","#c000c0","#ff0000"]}},
"strokeDash":{"field":"k","type":"nominal","scale":{"domain":["G","L","A","S"],"range":[[1,0],[1,0],[3,2],[1,0]]}}}},
{"data":{"values":[{"z":0}]},"mark":{"type":"rule","color":"black","strokeWidth":1.5},"encoding":{"y":{"datum":0,"axis":{"values":[-4,-2,0,2,4],"title":null,"labelFontSize":4,"tickSize":2,"labelPadding":1,"labelOverlap":false}}}},
{"data":{"values":[{"t":"Region 4"}]},"mark":{"type":"text","fontSize":20,"align":"left","baseline":"alphabetic","color":"black"},"encoding":{"x":{"datum":{"year":2012,"month":1,"date":27}},"y":{"datum":2.35,"axis":{"values":[-4,-2,0,2,4],"title":null,"labelFontSize":4,"tickSize":2,"labelPadding":1,"labelOverlap":false}},"text":{"field":"t"}}}
]},
{"width":596,"height":130,"layer":[
{"data":{"name":"r5"},"transform":[{"fold":["G","L","A","S"],"as":["k","v"]}],"mark":{"type":"line","strokeWidth":1.3,"clip":true},"encoding":{
"x":{"field":"d","type":"temporal","scale":{"domain":[{"year":2012,"month":1,"date":1},{"year":2015,"month":6,"date":28}]},"axis":{"values":[{"year":2012,"month":3,"date":1},{"year":2012,"month":7,"date":1},{"year":2012,"month":11,"date":1},{"year":2013,"month":3,"date":1},{"year":2013,"month":7,"date":1},{"year":2013,"month":11,"date":1},{"year":2014,"month":3,"date":1},{"year":2014,"month":7,"date":1},{"year":2014,"month":11,"date":1},{"year":2015,"month":3,"date":1}],"format":"%b %Y","labelFontSize":4.5,"tickSize":3,"labelPadding":1,"title":null}},
"y":{"field":"v","type":"quantitative","scale":{"domain":[-4,4]},"axis":{"values":[-4,-2,0,2,4],"title":"% ILI","titleFontSize":15,"titleFontWeight":"normal","labelFontSize":11,"ticks":false,"labelPadding":3,"titlePadding":1,"labelOverlap":false}},
"color":{"field":"k","type":"nominal","scale":{"domain":["G","L","A","S"],"range":["#0000ff","#00c000","#c000c0","#ff0000"]}},
"strokeDash":{"field":"k","type":"nominal","scale":{"domain":["G","L","A","S"],"range":[[1,0],[1,0],[3,2],[1,0]]}}}},
{"data":{"values":[{"z":0}]},"mark":{"type":"rule","color":"black","strokeWidth":1.5},"encoding":{"y":{"datum":0,"axis":{"values":[-4,-2,0,2,4],"title":"% ILI","titleFontSize":15,"titleFontWeight":"normal","labelFontSize":11,"ticks":false,"labelPadding":3,"titlePadding":1,"labelOverlap":false}}}},
{"data":{"values":[{"t":"Region 5"}]},"mark":{"type":"text","fontSize":20,"align":"left","baseline":"alphabetic","color":"black"},"encoding":{"x":{"datum":{"year":2012,"month":1,"date":27}},"y":{"datum":2.35,"axis":{"values":[-4,-2,0,2,4],"title":"% ILI","titleFontSize":15,"titleFontWeight":"normal","labelFontSize":11,"ticks":false,"labelPadding":3,"titlePadding":1,"labelOverlap":false}},"text":{"field":"t"}}}
]},
{"width":596,"height":130,"layer":[
{"data":{"name":"r6"},"transform":[{"fold":["G","L","A","S"],"as":["k","v"]}],"mark":{"type":"line","strokeWidth":1.3,"clip":true},"encoding":{
"x":{"field":"d","type":"temporal","scale":{"domain":[{"year":2012,"month":1,"date":1},{"year":2015,"month":6,"date":28}]},"axis":{"values":[{"year":2012,"month":3,"date":1},{"year":2012,"month":7,"date":1},{"year":2012,"month":11,"date":1},{"year":2013,"month":3,"date":1},{"year":2013,"month":7,"date":1},{"year":2013,"month":11,"date":1},{"year":2014,"month":3,"date":1},{"year":2014,"month":7,"date":1},{"year":2014,"month":11,"date":1},{"year":2015,"month":3,"date":1}],"format":"%b %Y","labelFontSize":4.5,"tickSize":3,"labelPadding":1,"title":null}},
"y":{"field":"v","type":"quantitative","scale":{"domain":[-4,4]},"axis":{"values":[-4,-2,0,2,4],"title":null,"labelFontSize":4,"tickSize":2,"labelPadding":1,"labelOverlap":false}},
"color":{"field":"k","type":"nominal","scale":{"domain":["G","L","A","S"],"range":["#0000ff","#00c000","#c000c0","#ff0000"]}},
"strokeDash":{"field":"k","type":"nominal","scale":{"domain":["G","L","A","S"],"range":[[1,0],[1,0],[3,2],[1,0]]}}}},
{"data":{"values":[{"z":0}]},"mark":{"type":"rule","color":"black","strokeWidth":1.5},"encoding":{"y":{"datum":0,"axis":{"values":[-4,-2,0,2,4],"title":null,"labelFontSize":4,"tickSize":2,"labelPadding":1,"labelOverlap":false}}}},
{"data":{"values":[{"t":"Region 6"}]},"mark":{"type":"text","fontSize":20,"align":"left","baseline":"alphabetic","color":"black"},"encoding":{"x":{"datum":{"year":2012,"month":1,"date":27}},"y":{"datum":2.35,"axis":{"values":[-4,-2,0,2,4],"title":null,"labelFontSize":4,"tickSize":2,"labelPadding":1,"labelOverlap":false}},"text":{"field":"t"}}}
]},
{"width":596,"height":130,"layer":[
{"data":{"name":"r7"},"transform":[{"fold":["G","L","A","S"],"as":["k","v"]}],"mark":{"type":"line","strokeWidth":1.3,"clip":true},"encoding":{
"x":{"field":"d","type":"temporal","scale":{"domain":[{"year":2012,"month":1,"date":1},{"year":2015,"month":6,"date":28}]},"axis":{"values":[{"year":2012,"month":3,"date":1},{"year":2012,"month":7,"date":1},{"year":2012,"month":11,"date":1},{"year":2013,"month":3,"date":1},{"year":2013,"month":7,"date":1},{"year":2013,"month":11,"date":1},{"year":2014,"month":3,"date":1},{"year":2014,"month":7,"date":1},{"year":2014,"month":11,"date":1},{"year":2015,"month":3,"date":1}],"format":"%b %Y","labelFontSize":4.5,"tickSize":3,"labelPadding":1,"title":null}},
"y":{"field":"v","type":"quantitative","scale":{"domain":[-4,4]},"axis":{"values":[-4,-2,0,2,4],"title":"% ILI","titleFontSize":15,"titleFontWeight":"normal","labelFontSize":11,"ticks":false,"labelPadding":3,"titlePadding":1,"labelOverlap":false}},
"color":{"field":"k","type":"nominal","scale":{"domain":["G","L","A","S"],"range":["#0000ff","#00c000","#c000c0","#ff0000"]}},
"strokeDash":{"field":"k","type":"nominal","scale":{"domain":["G","L","A","S"],"range":[[1,0],[1,0],[3,2],[1,0]]}}}},
{"data":{"values":[{"z":0}]},"mark":{"type":"rule","color":"black","strokeWidth":1.5},"encoding":{"y":{"datum":0,"axis":{"values":[-4,-2,0,2,4],"title":"% ILI","titleFontSize":15,"titleFontWeight":"normal","labelFontSize":11,"ticks":false,"labelPadding":3,"titlePadding":1,"labelOverlap":false}}}},
{"data":{"values":[{"t":"Region 7"}]},"mark":{"type":"text","fontSize":20,"align":"left","baseline":"alphabetic","color":"black"},"encoding":{"x":{"datum":{"year":2012,"month":1,"date":27}},"y":{"datum":2.35,"axis":{"values":[-4,-2,0,2,4],"title":"% ILI","titleFontSize":15,"titleFontWeight":"normal","labelFontSize":11,"ticks":false,"labelPadding":3,"titlePadding":1,"labelOverlap":false}},"text":{"field":"t"}}}
]},
{"width":596,"height":130,"layer":[
{"data":{"name":"r8"},"transform":[{"fold":["G","L","A","S"],"as":["k","v"]}],"mark":{"type":"line","strokeWidth":1.3,"clip":true},"encoding":{
"x":{"field":"d","type":"temporal","scale":{"domain":[{"year":2012,"month":1,"date":1},{"year":2015,"month":6,"date":28}]},"axis":{"values":[{"year":2012,"month":3,"date":1},{"year":2012,"month":7,"date":1},{"year":2012,"month":11,"date":1},{"year":2013,"month":3,"date":1},{"year":2013,"month":7,"date":1},{"year":2013,"month":11,"date":1},{"year":2014,"month":3,"date":1},{"year":2014,"month":7,"date":1},{"year":2014,"month":11,"date":1},{"year":2015,"month":3,"date":1}],"format":"%b %Y","labelFontSize":4.5,"tickSize":3,"labelPadding":1,"title":null}},
"y":{"field":"v","type":"quantitative","scale":{"domain":[-4,4]},"axis":{"values":[-4,-2,0,2,4],"title":null,"labelFontSize":4,"tickSize":2,"labelPadding":1,"labelOverlap":false}},
"color":{"field":"k","type":"nominal","scale":{"domain":["G","L","A","S"],"range":["#0000ff","#00c000","#c000c0","#ff0000"]}},
"strokeDash":{"field":"k","type":"nominal","scale":{"domain":["G","L","A","S"],"range":[[1,0],[1,0],[3,2],[1,0]]}}}},
{"data":{"values":[{"z":0}]},"mark":{"type":"rule","color":"black","strokeWidth":1.5},"encoding":{"y":{"datum":0,"axis":{"values":[-4,-2,0,2,4],"title":null,"labelFontSize":4,"tickSize":2,"labelPadding":1,"labelOverlap":false}}}},
{"data":{"values":[{"t":"Region 8"}]},"mark":{"type":"text","fontSize":20,"align":"left","baseline":"alphabetic","color":"black"},"encoding":{"x":{"datum":{"year":2012,"month":1,"date":27}},"y":{"datum":2.35,"axis":{"values":[-4,-2,0,2,4],"title":null,"labelFontSize":4,"tickSize":2,"labelPadding":1,"labelOverlap":false}},"text":{"field":"t"}}}
]},
{"width":596,"height":130,"layer":[
{"data":{"name":"r9"},"transform":[{"fold":["G","L","A","S"],"as":["k","v"]}],"mark":{"type":"line","strokeWidth":1.3,"clip":true},"encoding":{
"x":{"field":"d","type":"temporal","scale":{"domain":[{"year":2012,"month":1,"date":1},{"year":2015,"month":6,"date":28}]},"axis":{"values":[{"year":2012,"month":3,"date":1},{"year":2012,"month":7,"date":1},{"year":2012,"month":11,"date":1},{"year":2013,"month":3,"date":1},{"year":2013,"month":7,"date":1},{"year":2013,"month":11,"date":1},{"year":2014,"month":3,"date":1},{"year":2014,"month":7,"date":1},{"year":2014,"month":11,"date":1},{"year":2015,"month":3,"date":1}],"format":"%b %Y","labelFontSize":11,"tickSize":3,"labelPadding":2,"title":null}},
"y":{"field":"v","type":"quantitative","scale":{"domain":[-4,4]},"axis":{"values":[-4,-2,0,2,4],"title":"% ILI","titleFontSize":15,"titleFontWeight":"normal","labelFontSize":11,"ticks":false,"labelPadding":3,"titlePadding":1,"labelOverlap":false}},
"color":{"field":"k","type":"nominal","scale":{"domain":["G","L","A","S"],"range":["#0000ff","#00c000","#c000c0","#ff0000"]}},
"strokeDash":{"field":"k","type":"nominal","scale":{"domain":["G","L","A","S"],"range":[[1,0],[1,0],[3,2],[1,0]]}}}},
{"data":{"values":[{"z":0}]},"mark":{"type":"rule","color":"black","strokeWidth":1.5},"encoding":{"y":{"datum":0,"axis":{"values":[-4,-2,0,2,4],"title":"% ILI","titleFontSize":15,"titleFontWeight":"normal","labelFontSize":11,"ticks":false,"labelPadding":3,"titlePadding":1,"labelOverlap":false}}}},
{"data":{"values":[{"t":"Region 9"}]},"mark":{"type":"text","fontSize":20,"align":"left","baseline":"alphabetic","color":"black"},"encoding":{"x":{"datum":{"year":2012,"month":1,"date":27}},"y":{"datum":2.35,"axis":{"values":[-4,-2,0,2,4],"title":"% ILI","titleFontSize":15,"titleFontWeight":"normal","labelFontSize":11,"ticks":false,"labelPadding":3,"titlePadding":1,"labelOverlap":false}},"text":{"field":"t"}}}
]},
{"width":596,"height":130,"layer":[
{"data":{"name":"r10"},"transform":[{"fold":["G","L","A","S"],"as":["k","v"]}],"mark":{"type":"line","strokeWidth":1.3,"clip":true},"encoding":{
"x":{"field":"d","type":"temporal","scale":{"domain":[{"year":2012,"month":1,"date":1},{"year":2015,"month":6,"date":28}]},"axis":{"values":[{"year":2012,"month":3,"date":1},{"year":2012,"month":7,"date":1},{"year":2012,"month":11,"date":1},{"year":2013,"month":3,"date":1},{"year":2013,"month":7,"date":1},{"year":2013,"month":11,"date":1},{"year":2014,"month":3,"date":1},{"year":2014,"month":7,"date":1},{"year":2014,"month":11,"date":1},{"year":2015,"month":3,"date":1}],"format":"%b %Y","labelFontSize":11,"tickSize":3,"labelPadding":2,"title":null}},
"y":{"field":"v","type":"quantitative","scale":{"domain":[-4,4]},"axis":{"values":[-4,-2,0,2,4],"title":null,"labelFontSize":4,"tickSize":2,"labelPadding":1,"labelOverlap":false}},
"color":{"field":"k","type":"nominal","scale":{"domain":["G","L","A","S"],"range":["#0000ff","#00c000","#c000c0","#ff0000"]}},
"strokeDash":{"field":"k","type":"nominal","scale":{"domain":["G","L","A","S"],"range":[[1,0],[1,0],[3,2],[1,0]]}}}},
{"data":{"values":[{"z":0}]},"mark":{"type":"rule","color":"black","strokeWidth":1.5},"encoding":{"y":{"datum":0,"axis":{"values":[-4,-2,0,2,4],"title":null,"labelFontSize":4,"tickSize":2,"labelPadding":1,"labelOverlap":false}}}},
{"data":{"values":[{"t":"Region 10"}]},"mark":{"type":"text","fontSize":20,"align":"left","baseline":"alphabetic","color":"black"},"encoding":{"x":{"datum":{"year":2012,"month":1,"date":27}},"y":{"datum":2.35,"axis":{"values":[-4,-2,0,2,4],"title":null,"labelFontSize":4,"tickSize":2,"labelPadding":1,"labelOverlap":false}},"text":{"field":"t"}}}
]}
]
}
